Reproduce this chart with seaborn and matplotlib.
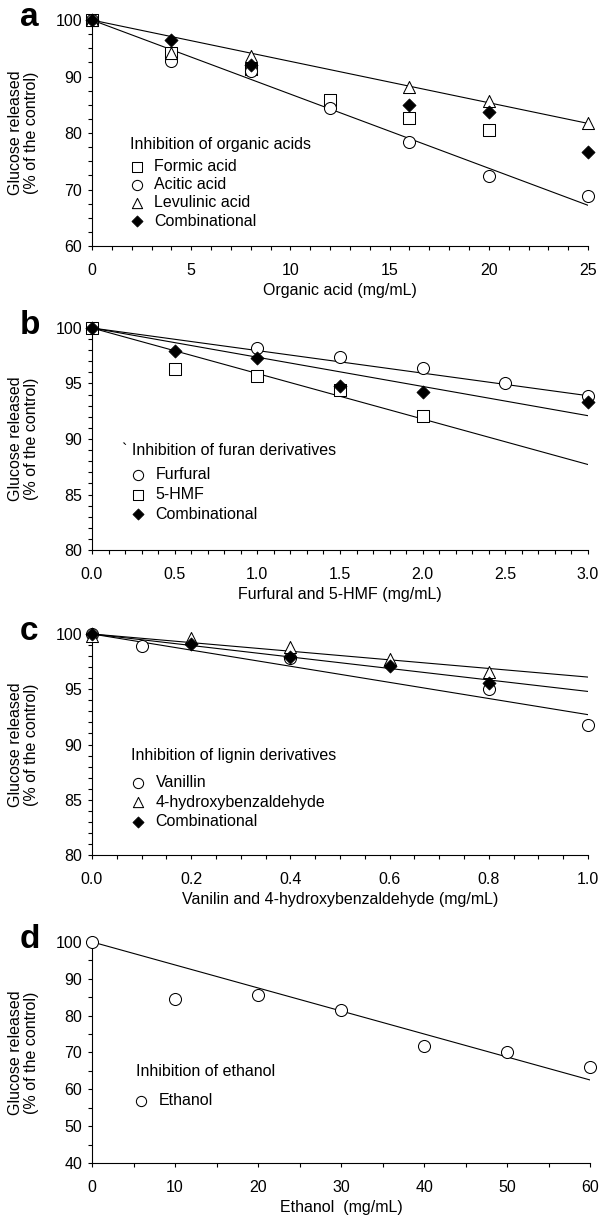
import matplotlib
matplotlib.use("Agg")
import matplotlib.pyplot as plt
import seaborn as sns
from matplotlib.ticker import AutoMinorLocator, MultipleLocator, FormatStrFormatter

sns.set_style("ticks")
plt.rcParams["font.family"] = ["Liberation Sans", "DejaVu Sans"]
plt.rcParams["font.size"] = 11.5
for key in ["text.color", "axes.labelcolor", "xtick.color", "ytick.color", "axes.edgecolor"]:
    plt.rcParams[key] = "black"

# panel a - organic acids
formic_x = [0, 4, 8, 12, 16, 20]
formic_y = [100, 94.1, 91.3, 85.8, 82.7, 80.5]
acetic_x = [0, 4, 8, 12, 16, 20, 25]
acetic_y = [100, 92.7, 90.9, 84.5, 78.4, 72.4, 68.9]
levulinic_x = [0, 4, 8, 16, 20, 25]
levulinic_y = [100, 94.2, 93.6, 88.1, 85.7, 81.7]
comb_a_x = [0, 4, 8, 16, 20, 25]
comb_a_y = [100, 96.4, 92.1, 85.0, 83.8, 76.6]
fit_a_x = [0, 25]
fit_levulinic = [100, 81.7]
fit_acetic = [100, 67.2]

# panel b - furan derivatives
furfural_x = [0, 1.0, 1.5, 2.0, 2.5, 3.0]
furfural_y = [100, 98.2, 97.4, 96.4, 95.0, 93.9]
hmf_x = [0, 0.5, 1.0, 1.5, 2.0]
hmf_y = [100, 96.3, 95.7, 94.4, 92.1]
comb_b_x = [0, 0.5, 1.0, 1.5, 2.0, 3.0]
comb_b_y = [100, 97.9, 97.3, 94.8, 94.2, 93.3]
fit_b_x = [0, 3]
fit_furfural = [100, 93.9]
fit_comb_b = [100, 92.1]
fit_hmf = [100, 87.7]

# panel c - lignin derivatives
vanillin_x = [0, 0.1, 0.4, 0.8, 1.0]
vanillin_y = [100, 98.9, 97.8, 95.0, 91.8]
hba_x = [0, 0.2, 0.4, 0.6, 0.8]
hba_y = [99.8, 99.6, 98.8, 97.7, 96.6]
comb_c_x = [0, 0.2, 0.4, 0.6, 0.8]
comb_c_y = [100, 99.1, 97.9, 97.1, 95.6]
fit_c_x = [0, 1.0]
fit_hba = [100, 96.1]
fit_comb_c = [100, 94.8]
fit_vanillin = [100, 92.7]

# panel d - ethanol
ethanol_x = [0, 10, 20, 30, 40, 50, 60]
ethanol_y = [100, 84.6, 85.6, 81.5, 71.8, 70.1, 66.0]
fit_d_x = [0, 60]
fit_ethanol = [100, 62.5]

FS = 11.5
OPEN = dict(color="white", edgecolor="black", linewidth=0.75, clip_on=False, zorder=3)
FILLED = dict(color="black", edgecolor="black", linewidth=0.5, clip_on=False, zorder=4)


def open_pts(ax, x, y, marker, label):
    sns.scatterplot(x=x, y=y, ax=ax, marker=marker, s=75, label=label, **OPEN)


def filled_pts(ax, x, y, label):
    sns.scatterplot(x=x, y=y, ax=ax, marker="D", s=45, label=label, **FILLED)


def fit_line(ax, x, y):
    sns.lineplot(x=x, y=y, ax=ax, color="black", linewidth=0.8, legend=False, zorder=2)


def style(ax, letter, xlabel, xlim, ylim, xmaj, xminor, ymaj, yminor, xfmt):
    ax.set_xlim(*xlim)
    ax.set_ylim(*ylim)
    ax.xaxis.set_major_locator(MultipleLocator(xmaj))
    ax.xaxis.set_minor_locator(AutoMinorLocator(xminor))
    ax.yaxis.set_major_locator(MultipleLocator(ymaj))
    ax.yaxis.set_minor_locator(AutoMinorLocator(yminor))
    ax.xaxis.set_major_formatter(FormatStrFormatter(xfmt))
    ax.tick_params(which="both", direction="out", length=3, width=0.8, labelsize=FS)
    ax.tick_params(axis="x", which="major", pad=9)
    ax.tick_params(axis="y", which="major", pad=4)
    for sp in ["left", "bottom"]:
        ax.spines[sp].set_linewidth(0.8)
    sns.despine(ax=ax)
    ax.set_xlabel(xlabel, fontsize=FS, labelpad=4)
    ax.set_ylabel("Glucose released\n(% of the control)", fontsize=FS, linespacing=1.1)
    ax.yaxis.set_label_coords(-0.106, 0.5)
    ax.text(-0.145, 0.973, letter, transform=ax.transAxes, fontsize=24,
            fontweight="bold", ha="left", va="baseline")


def legend(ax, title, tx, ty, lx, ly, ls):
    ax.text(tx, ty, title, transform=ax.transAxes, fontsize=FS, ha="left", va="center")
    ax.legend(loc="upper left", bbox_to_anchor=(lx, ly), frameon=False, borderpad=0,
              borderaxespad=0, handlelength=1.0, handletextpad=0.6, labelspacing=ls,
              markerscale=0.85, fontsize=FS)


fig = plt.figure(figsize=(6.02, 12.22), dpi=100)
L, W = 0.1528, 0.824
ax_a = fig.add_axes([L, 0.7987, W, 0.1849])
ax_b = fig.add_axes([L, 0.5499, W, 0.1817])
ax_c = fig.add_axes([L, 0.3003, W, 0.1809])
ax_d = fig.add_axes([L, 0.0483, W + 0.004, 0.1809])

# a
fit_line(ax_a, fit_a_x, fit_levulinic)
fit_line(ax_a, fit_a_x, fit_acetic)
open_pts(ax_a, formic_x, formic_y, "s", "Formic acid")
open_pts(ax_a, acetic_x, acetic_y, "o", "Acitic acid")
open_pts(ax_a, levulinic_x, levulinic_y, "^", "Levulinic acid")
filled_pts(ax_a, comb_a_x, comb_a_y, "Combinational")
style(ax_a, "a", "Organic acid (mg/mL)", (0, 25), (60, 100), 5, 5, 10, 4, "%d")
legend(ax_a, "Inhibition of organic acids", 0.077, 0.449, 0.074, 0.385, 0.2)

# b
fit_line(ax_b, fit_b_x, fit_furfural)
fit_line(ax_b, fit_b_x, fit_comb_b)
fit_line(ax_b, fit_b_x, fit_hmf)
open_pts(ax_b, furfural_x, furfural_y, "o", "Furfural")
open_pts(ax_b, hmf_x, hmf_y, "s", "5-HMF")
filled_pts(ax_b, comb_b_x, comb_b_y, "Combinational")
style(ax_b, "b", "Furfural and 5-HMF (mg/mL)", (0, 3), (80, 100), 0.5, 5, 5, 5, "%.1f")
legend(ax_b, "` Inhibition of furan derivatives", 0.061, 0.45, 0.077, 0.374, 0.3)

# c
fit_line(ax_c, fit_c_x, fit_hba)
fit_line(ax_c, fit_c_x, fit_comb_c)
fit_line(ax_c, fit_c_x, fit_vanillin)
open_pts(ax_c, vanillin_x, vanillin_y, "o", "Vanillin")
open_pts(ax_c, hba_x, hba_y, "^", "4-hydroxybenzaldehyde")
filled_pts(ax_c, comb_c_x, comb_c_y, "Combinational")
style(ax_c, "c", "Vanilin and 4-hydroxybenzaldehyde (mg/mL)", (0, 1.0), (80, 100), 0.2, 4, 5, 5, "%.1f")
legend(ax_c, "Inhibition of lignin derivatives", 0.079, 0.452, 0.077, 0.363, 0.3)

# d
fit_line(ax_d, fit_d_x, fit_ethanol)
open_pts(ax_d, ethanol_x, ethanol_y, "o", "Ethanol")
style(ax_d, "d", "Ethanol  (mg/mL)", (0, 60), (40, 100), 10, 2, 10, 2, "%d")
legend(ax_d, "Inhibition of ethanol", 0.089, 0.412, 0.083, 0.315, 0.3)

fig.savefig("out.png", dpi=100)
